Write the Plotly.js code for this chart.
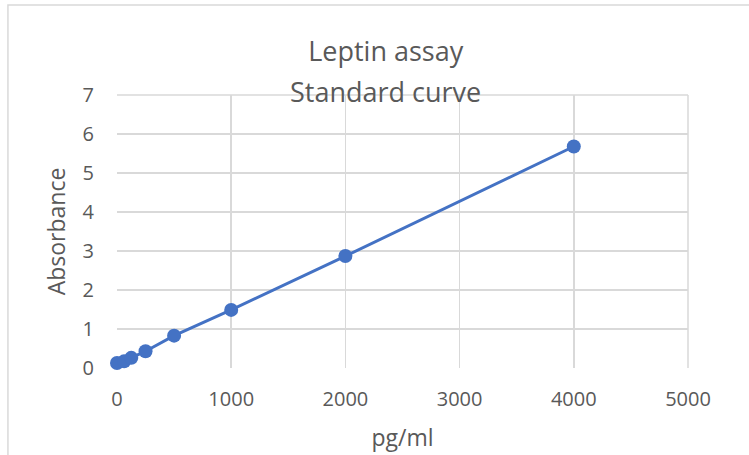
<!DOCTYPE html>
<html>
<head>
<meta charset="utf-8">
<script src="https://cdn.plot.ly/plotly-3.0.1.min.js"></script>
<style>html,body{margin:0;padding:0;background:#fff}#chart{width:749px;height:455px}</style>
</head>
<body>
<div id="chart"></div>
<script>
const concentration = [0, 62.5, 125, 250, 500, 1000, 2000, 4000];
const absorbance = [0.13, 0.17, 0.26, 0.43, 0.83, 1.49, 2.87, 5.68];
const xTicks = [0, 1000, 2000, 3000, 4000, 5000];
const yTicks = [0, 1, 2, 3, 4, 5, 6, 7];
const titleLines = ['Leptin assay', 'Standard curve'];

const grey = '#595959';
const grid = '#d9d9d9';
const fontFam = '"Open Sans", "Noto Sans", sans-serif';

const trace = {
  x: concentration,
  y: absorbance,
  type: 'scatter',
  mode: 'lines+markers',
  line: {color: '#4472C4', width: 3},
  marker: {color: '#4472C4', size: 14},
  cliponaxis: false,
  hoverinfo: 'x+y'
};

const layout = {
  width: 749, height: 455,
  margin: {l: 117, r: 61, t: 95, b: 87},
  paper_bgcolor: '#fff', plot_bgcolor: '#fff',
  font: {family: fontFam, color: grey, size: 20},
  showlegend: false,
  title: {
    text: titleLines[0],
    font: {family: fontFam, size: 27, color: grey},
    x: 0.515, xanchor: 'center', xref: 'container',
    y: 1 - 52/455, yanchor: 'middle', yref: 'container'
  },
  annotations: [{
    text: titleLines[1], xref: 'paper', yref: 'paper',
    x: 0.470, y: 1.011, xanchor: 'center', yanchor: 'middle',
    showarrow: false, font: {family: fontFam, size: 27, color: grey}
  }],
  xaxis: {
    range: [0, 5000], tickvals: xTicks, ticktext: xTicks.map(String),
    showgrid: true, gridcolor: grid, gridwidth: 1.5,
    zeroline: false, showline: false, ticks: '',
    ticklabelstandoff: 17,
    tickfont: {size: 20, color: grey},
    title: {text: 'pg/ml', font: {size: 23, color: grey}, standoff: 18}
  },
  yaxis: {
    range: [0, 7], tickvals: yTicks, ticktext: yTicks.map(String),
    showgrid: true, gridcolor: grid, gridwidth: 1.5,
    zeroline: false, showline: false, ticks: '',
    ticklabelstandoff: 22,
    tickfont: {size: 20, color: grey},
    title: {text: 'Absorbance', font: {size: 23, color: grey}, standoff: 10}
  },
  shapes: [
    {type: 'rect', xref: 'paper', yref: 'paper', x0: -0.191, x1: 2, y0: -2, y1: 1.33,
     line: {color: grid, width: 1.5}, fillcolor: 'rgba(0,0,0,0)', layer: 'below'},
    {type: 'line', xref: 'paper', yref: 'paper', x0: 1, x1: 1, y0: 0, y1: 1,
     line: {color: grid, width: 1.5}, layer: 'below'},
    {type: 'line', xref: 'paper', yref: 'paper', x0: 0, x1: 1, y0: 1, y1: 1,
     line: {color: grid, width: 1.5}, layer: 'below'}
  ]
};

Plotly.newPlot('chart', [trace], layout, {displayModeBar: false, staticPlot: true});
</script>
</body>
</html>
